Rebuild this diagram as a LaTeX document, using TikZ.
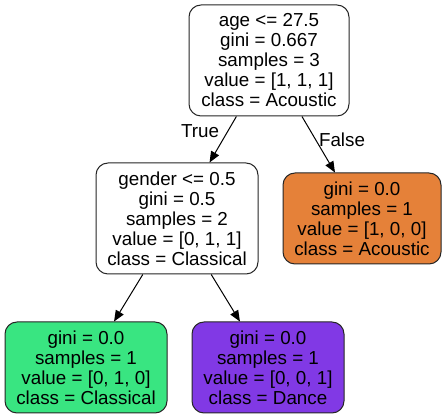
\documentclass[tikz,border=0pt]{standalone}
\usepackage{fontspec}
\setmainfont{Liberation Sans}
\usetikzlibrary{arrows.meta}
\definecolor{acou}{HTML}{E58139}
\definecolor{clas}{HTML}{39E581}
\definecolor{danc}{HTML}{8139E5}
\tikzset{
  tnode/.style={draw=black!85, line width=1pt, rounded corners=12pt, align=center,
    font=\fontsize{18.8}{20}\selectfont, inner sep=0pt, anchor=center},
  tedge/.style={line width=1pt, -{Triangle[length=11pt,width=9pt]}},
  elabel/.style={font=\fontsize{18.8}{20}\selectfont}
}
\begin{document}
\begin{tikzpicture}[x=1pt,y=-1pt]
\useasboundingbox (0,0) rectangle (448,419);
\node[tnode, minimum width=160pt, minimum height=111pt, fill=white] (root) at (269,60.5)
  {age <= 27.5\\gini = 0.667\\samples = 3\\value = [1, 1, 1]\\class = Acoustic};
\node[tnode, minimum width=162pt, minimum height=111pt, fill=white] (gender) at (177,218.5)
  {gender <= 0.5\\gini = 0.5\\samples = 2\\value = [0, 1, 1]\\class = Classical};
\node[tnode, minimum width=158pt, minimum height=91pt, fill=acou] (acl) at (362,218.5)
  {gini = 0.0\\samples = 1\\value = [1, 0, 0]\\class = Acoustic};
\node[tnode, minimum width=162pt, minimum height=91pt, fill=clas] (cll) at (86,367.5)
  {gini = 0.0\\samples = 1\\value = [0, 1, 0]\\class = Classical};
\node[tnode, minimum width=152pt, minimum height=91pt, fill=danc] (dnl) at (268,367.5)
  {gini = 0.0\\samples = 1\\value = [0, 0, 1]\\class = Dance};
\draw[tedge] (root) -- (gender);
\draw[tedge] (root) -- (acl);
\draw[tedge] (gender) -- (cll);
\draw[tedge] (gender) -- (dnl);
\node[elabel] (tl) at (200,131) {True};
\node[elabel] (fl) at (342,140) {False};
\end{tikzpicture}
\end{document}
